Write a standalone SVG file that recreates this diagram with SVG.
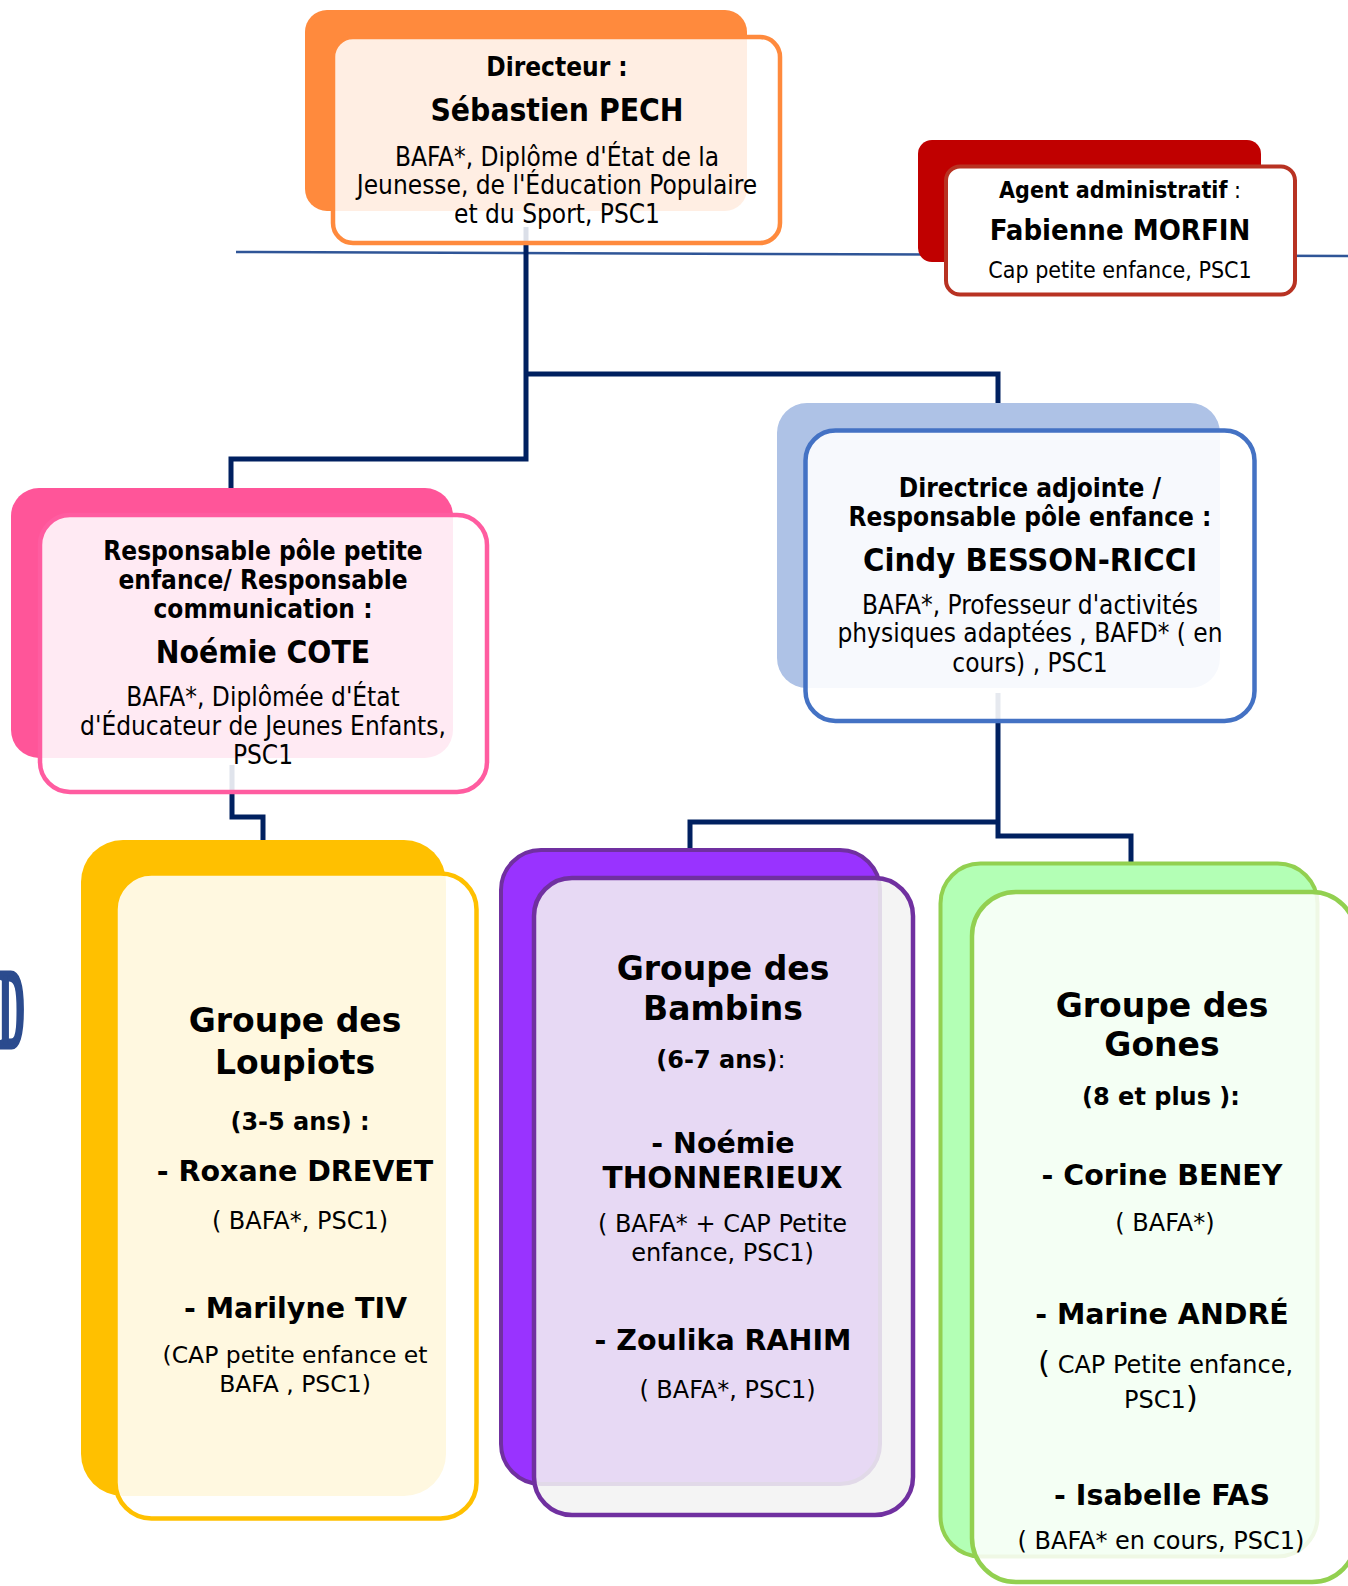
<svg xmlns="http://www.w3.org/2000/svg" width="1348" height="1586" viewBox="0 0 1348 1586">
<defs>
<filter id="sh" x="-20%" y="-200%" width="140%" height="600%">
<feDropShadow dx="0" dy="4" stdDeviation="2.5" flood-color="#000" flood-opacity="0.35"/>
</filter>
<style>
.cn{font-family:"DejaVu Sans Condensed","DejaVu Sans",sans-serif;font-stretch:condensed;fill:#000;text-anchor:middle}
.gv{font-family:"DejaVu Sans",Verdana,sans-serif;fill:#000;text-anchor:middle}
.bo{font-weight:bold}
.conn{fill:none;stroke:#002060;stroke-width:5;stroke-linejoin:miter;stroke-linecap:butt}
.front{stroke-width:4.5}
</style>
</defs>
<rect width="1348" height="1586" fill="#fff"/>

<text transform="translate(-1,1047) scale(0.32,1)" x="0" y="0" font-family="'Liberation Serif',serif" font-weight="bold" font-size="112" fill="#2B4B8E" stroke="#2B4B8E" stroke-width="5" stroke-linejoin="miter">D</text>

<line x1="236" y1="252" x2="1348" y2="256" stroke="#2F5597" stroke-width="2.5"/>

<g id="connectors">
<line x1="786" y1="170" x2="906" y2="170" stroke="#002060" stroke-width="5" filter="url(#sh)"/>
<path class="conn" d="M526,227 V459 H231 V489"/>
<path class="conn" d="M526,374 H998 V404"/>
<path class="conn" stroke-width="4.5" d="M232,765 V817 H263 V841"/>
<path class="conn" stroke-width="4.5" d="M998,693 V836 H1131 V862"/>
<path class="conn" stroke-width="4.5" d="M998,822 H690 V849"/>
</g>

<g id="directeur">
<rect x="305" y="10" width="442" height="201" rx="22" fill="#FF8A3D"/>
<rect class="front" x="333" y="37" width="447" height="206" rx="20" fill="#fff" fill-opacity="0.86" stroke="#FF8A3D"/>
<text class="cn bo" x="557" y="76" font-size="26">Directeur :</text>
<text class="cn bo" x="557" y="121" font-size="31.5">Sébastien PECH</text>
<text class="cn" x="557" y="165.5" font-size="26">BAFA*, Diplôme d'État de la</text>
<text class="cn" x="557" y="194" font-size="26">Jeunesse, de l'Éducation Populaire</text>
<text class="cn" x="557" y="222.5" font-size="26">et du Sport, PSC1</text>
</g>

<g id="agent">
<rect x="918" y="140" width="343" height="122" rx="14" fill="#C00000"/>
<rect x="946" y="166.5" width="349" height="128" rx="14" fill="#fff" stroke="#B83222" stroke-width="4"/>
<text class="cn" x="1120" y="198" font-size="23"><tspan font-weight="bold">Agent administratif</tspan> :</text>
<text class="cn bo" x="1120" y="240" font-size="29">Fabienne MORFIN</text>
<text class="cn" x="1120" y="278" font-size="23">Cap petite enfance, PSC1</text>
</g>

<g id="pole-petite-enfance">
<rect x="11" y="488" width="442" height="270" rx="28" fill="#FF5599"/>
<rect class="front" x="40" y="515" width="447" height="277" rx="30" fill="#fff" fill-opacity="0.88" stroke="#FF5CA0"/>
<text class="cn bo" x="263" y="560" font-size="26">Responsable pôle petite</text>
<text class="cn bo" x="263" y="588.7" font-size="26">enfance/ Responsable</text>
<text class="cn bo" x="263" y="617.7" font-size="26">communication :</text>
<text class="cn bo" x="263" y="662.7" font-size="31.5">Noémie COTE</text>
<text class="cn" x="263" y="705.7" font-size="26">BAFA*, Diplômée d'État</text>
<text class="cn" x="263" y="735" font-size="26">d'Éducateur de Jeunes Enfants,</text>
<text class="cn" x="263" y="764" font-size="26">PSC1</text>
</g>

<g id="directrice-adjointe">
<rect x="777" y="403" width="443" height="285" rx="30" fill="#AEC2E6"/>
<rect class="front" x="805.5" y="430.5" width="449" height="290.5" rx="30" fill="#fff" fill-opacity="0.9" stroke="#4472C4"/>
<text class="cn bo" x="1030" y="496.7" font-size="26">Directrice adjointe /</text>
<text class="cn bo" x="1030" y="526" font-size="26">Responsable pôle enfance :</text>
<text class="cn bo" x="1030" y="571" font-size="32.5">Cindy BESSON-RICCI</text>
<text class="cn" x="1030" y="614" font-size="26">BAFA*, Professeur d'activités</text>
<text class="cn" x="1030" y="641.7" font-size="26">physiques adaptées , BAFD* ( en</text>
<text class="cn" x="1030" y="671.7" font-size="26">cours) , PSC1</text>
</g>

<g id="loupiots">
<rect x="81" y="840" width="365" height="656" rx="42" fill="#FFC000"/>
<rect class="front" x="115.5" y="873.5" width="361" height="645" rx="36" fill="#fff" fill-opacity="0.88" stroke="#FFC000"/>
<text class="gv bo" x="295" y="1032" font-size="33">Groupe des</text>
<text class="gv bo" x="295" y="1073.5" font-size="33">Loupiots</text>
<text class="gv bo" x="300" y="1130" font-size="24">(3-5 ans) :</text>
<text class="gv bo" x="295" y="1181" font-size="28.5">- Roxane DREVET</text>
<text class="gv" x="300" y="1229" font-size="24">( BAFA*, PSC1)</text>
<text class="gv bo" x="295.5" y="1317.5" font-size="28.5">- Marilyne TIV</text>
<text class="gv" x="295" y="1362.5" font-size="23.5">(CAP petite enfance et</text>
<text class="gv" x="295" y="1391.5" font-size="23.5">BAFA , PSC1)</text>
</g>

<g id="bambins">
<rect x="501" y="850" width="379" height="634" rx="40" fill="#9933FF" stroke="#7030A0" stroke-width="4"/>
<rect class="front" x="534" y="878" width="379" height="637" rx="38" fill="#F2F2F2" fill-opacity="0.87" stroke="#7030A0"/>
<text class="gv bo" x="723" y="980" font-size="33">Groupe des</text>
<text class="gv bo" x="723" y="1019.5" font-size="33">Bambins</text>
<text class="gv" x="721" y="1068" font-size="24"><tspan font-weight="bold">(6-7 ans)</tspan>:</text>
<text class="gv bo" x="723" y="1152.5" font-size="28.5">- Noémie</text>
<text class="gv bo" x="722.5" y="1188" font-size="29.5">THONNERIEUX</text>
<text class="gv" x="722.5" y="1231.5" font-size="24">( BAFA* + CAP Petite</text>
<text class="gv" x="722.5" y="1261" font-size="24">enfance, PSC1)</text>
<text class="gv bo" x="723" y="1349.5" font-size="28.5">- Zoulika RAHIM</text>
<text class="gv" x="727.5" y="1397.5" font-size="24">( BAFA*, PSC1)</text>
</g>

<g id="gones">
<rect x="940.5" y="863.5" width="377" height="693" rx="40" fill="#B3FFB5" stroke="#92D050" stroke-width="4"/>
<rect class="front" x="972" y="892" width="384" height="690" rx="44" fill="#fff" fill-opacity="0.85" stroke="#92D050"/>
<text class="gv bo" x="1162" y="1017" font-size="33">Groupe des</text>
<text class="gv bo" x="1162" y="1056" font-size="33">Gones</text>
<text class="gv bo" x="1161" y="1105" font-size="24">(8 et plus ):</text>
<text class="gv bo" x="1162" y="1185" font-size="28.5">- Corine BENEY</text>
<text class="gv" x="1165" y="1230.5" font-size="24">( BAFA*)</text>
<text class="gv bo" x="1162" y="1324" font-size="28.5">- Marine ANDRÉ</text>
<text class="gv" x="1165.5" y="1373" font-size="24"><tspan font-size="31">(</tspan> CAP Petite enfance,</text>
<text class="gv" x="1161" y="1407.5" font-size="24">PSC1<tspan font-size="31">)</tspan></text>
<text class="gv bo" x="1162" y="1505" font-size="28.5">- Isabelle FAS</text>
<text class="gv" x="1161" y="1548.5" font-size="24">( BAFA* en cours, PSC1)</text>
</g>
</svg>
